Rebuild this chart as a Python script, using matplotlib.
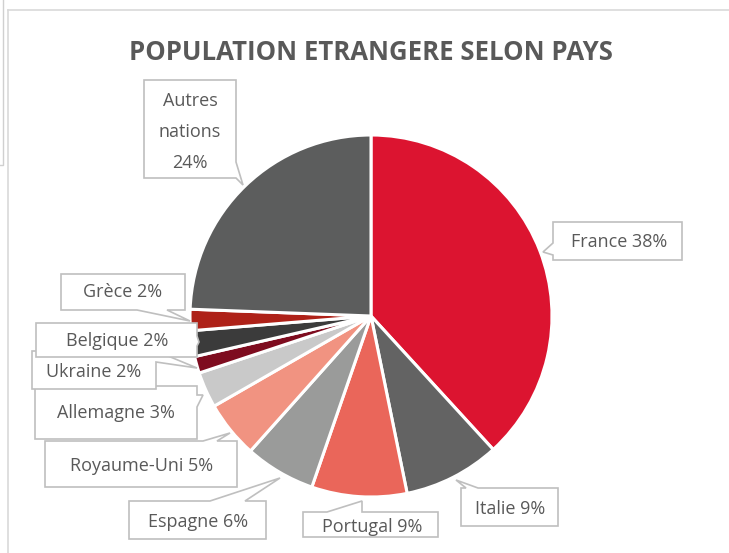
import math
import matplotlib
matplotlib.use("Agg")
import matplotlib.pyplot as plt
from matplotlib.patches import Polygon
from matplotlib.lines import Line2D

# ---- data ----
categories = ["France", "Italie", "Portugal", "Espagne", "Royaume-Uni",
              "Allemagne", "Ukraine", "Belgique", "Grèce", "Autres nations"]
values = [38.2, 8.6, 8.5, 6.3, 5.1, 3.2, 1.5, 2.3, 1.9, 24.4]
colors = ["#DC1430", "#636363", "#EA665A", "#9A9B9A", "#F19381",
          "#C9C9C9", "#7E0C1F", "#3B3B3B", "#AE2118", "#5C5D5D"]
title = "POPULATION ETRANGERE SELON PAYS"

W, H = 729, 553
FONT = "Open Sans"
TXT = "#595959"
EDGE = "#BFBFBF"

fig = plt.figure(figsize=(W / 100, H / 100), dpi=100)
ax = fig.add_axes([0, 0, 1, 1])

# pie (y axis inverted -> start at -90, counterclock in data = clockwise on screen)
cx, cy, r = 371, 316, 181
ax.pie(values, colors=colors, startangle=-90, counterclock=True,
       center=(cx, cy), radius=r, frame=True,
       wedgeprops=dict(edgecolor="white", linewidth=2.2))

ax.set_xlim(0, W)
ax.set_ylim(H, 0)
ax.set_aspect("equal")
ax.axis("off")

# frame lines
ax.add_line(Line2D([8, W], [10, 10], color="#D9D9D9", lw=1.2))
ax.add_line(Line2D([8, 8], [10, H], color="#D9D9D9", lw=1.2))
ax.add_line(Line2D([3.5, 3.5, 0], [0, 165, 165], color="#D0D0D0", lw=1.0))

ax.text(371, 52, title, ha="center", va="center", fontsize=18.5,
        fontweight="bold", color=TXT, family=FONT)


def callout(box, side, base, tip, z):
    x0, y0, x1, y1 = box
    a, b = base
    if side == "top":
        pts = [(x0, y0), (a, y0), tip, (b, y0), (x1, y0), (x1, y1), (x0, y1)]
    elif side == "right":
        pts = [(x0, y0), (x1, y0), (x1, a), tip, (x1, b), (x1, y1), (x0, y1)]
    elif side == "bottom":
        pts = [(x0, y0), (x1, y0), (x1, y1), (b, y1), tip, (a, y1), (x0, y1)]
    else:
        pts = [(x0, y0), (x1, y0), (x1, y1), (x0, y1), (x0, b), tip, (x0, a)]
    ax.add_patch(Polygon(pts, closed=True, facecolor="white", edgecolor=EDGE,
                         lw=1.2, zorder=z, joinstyle="miter"))


def pct(v):
    return "%d%%" % math.floor(v + 0.5)


labels = {c: "%s %s" % (c, pct(v)) for c, v in zip(categories, values)}
labels["Autres nations"] = "Autres\nnations\n" + pct(values[-1])

# layout of label callouts: box (x0, ytop, x1, ybottom), pointer side, base, tip, text pos
layout = {
    "Autres nations": ((144, 80, 236, 178), "right", (162, 178), (243, 185), (190, 132), 10),
    "France": ((553, 222, 682, 260), "left", (243, 255), (543, 252), (619, 242), 10),
    "Italie": ((461, 488, 558, 526), "top", (466, 478), (456, 480), (510, 509), 10),
    "Portugal": ((303, 512, 438, 537), "top", (327, 362), (362, 501), (372, 527), 10),
    "Espagne": ((129, 501, 266, 539), "top", (210, 245), (280, 478), (198, 522), 10),
    "Royaume-Uni": ((45, 441, 237, 487), "top", (203, 217), (230, 433), (142, 466), 10),
    "Allemagne": ((35, 386, 197, 439), "right", (395, 407), (203, 395), (116, 413), 10),
    "Ukraine": ((32, 351, 156, 389), "right", (351, 362), (197, 368), (94, 372), 11),
    "Belgique": ((36, 323, 197, 357), "right", (336, 346), (199, 342), (117, 341), 12),
    "Grèce": ((61, 274, 185, 310), "bottom", (137, 167), (190, 321), (123, 292), 10),
}

for c in categories:
    box, side, base, tip, tpos, z = layout[c]
    callout(box, side, base, tip, z)
    ax.text(tpos[0], tpos[1], labels[c], ha="center", va="center",
            fontsize=13, color=TXT, family=FONT, zorder=z + 0.5,
            linespacing=1.92)

fig.savefig("out.png", dpi=100, facecolor="white")
